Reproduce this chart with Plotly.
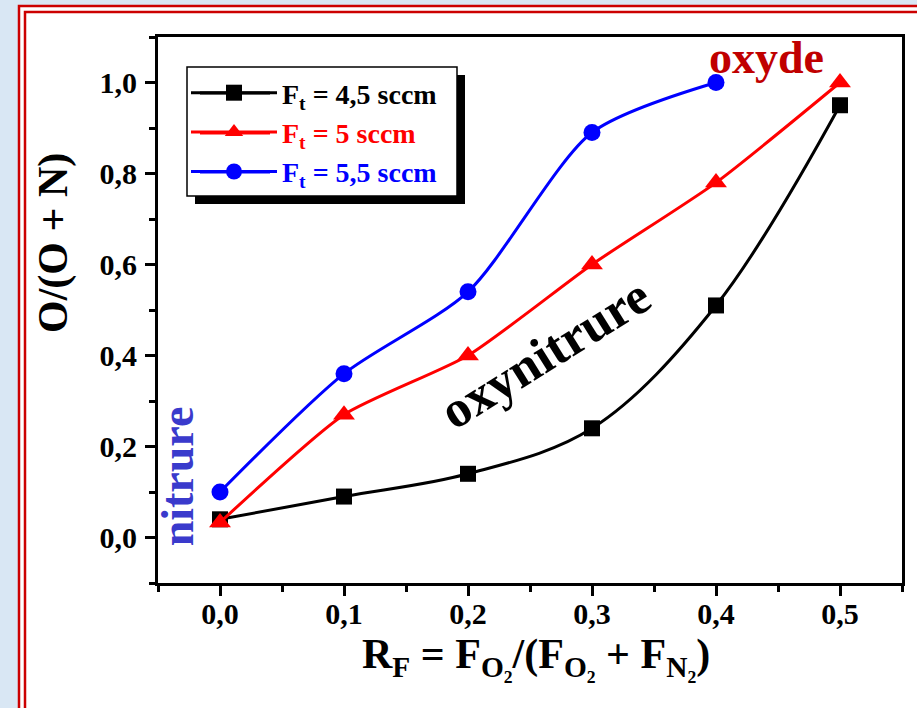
import plotly.graph_objects as go

# ---- data ----
x_ratio = [0.0, 0.1, 0.2, 0.3, 0.4, 0.5]
x_ratio_55 = [0.0, 0.1, 0.2, 0.3, 0.4]
o_frac_45 = [0.04, 0.09, 0.14, 0.24, 0.51, 0.95]
o_frac_5 = [0.033, 0.27, 0.40, 0.60, 0.78, 1.00]
o_frac_55 = [0.10, 0.36, 0.54, 0.89, 1.00]
series_labels = ["F<sub>t</sub> = 4,5 sccm", "F<sub>t</sub> = 5 sccm", "F<sub>t</sub> = 5,5 sccm"]
series_colors = ["#000000", "#ff0000", "#0000ff"]
x_tick_vals = [0.0, 0.1, 0.2, 0.3, 0.4, 0.5]
x_tick_text = ["0,0", "0,1", "0,2", "0,3", "0,4", "0,5"]
y_tick_vals = [0.0, 0.2, 0.4, 0.6, 0.8, 1.0]
y_tick_text = ["0,0", "0,2", "0,4", "0,6", "0,8", "1,0"]

FONT = "Liberation Serif"
W_FIG, H_FIG = 917, 708
L, R, T, B = 158, 902, 37, 583
PW, PH = R - L, B - T


def px(v):
    return (v - L) / PW


def py(v):
    return (B - v) / PH


fig = go.Figure()
fig.add_trace(go.Scatter(
    x=x_ratio, y=o_frac_45, mode="lines+markers",
    name="<span style='color:%s'>%s</span>" % (series_colors[0], series_labels[0]),
    line=dict(color=series_colors[0], width=3, shape="spline", smoothing=1.0),
    marker=dict(symbol="square", size=16, color=series_colors[0])))
fig.add_trace(go.Scatter(
    x=x_ratio, y=o_frac_5, mode="lines+markers",
    name="<span style='color:%s'>%s</span>" % (series_colors[1], series_labels[1]),
    line=dict(color=series_colors[1], width=3, shape="spline", smoothing=0.6),
    marker=dict(symbol="triangle-up", size=19, color=series_colors[1])))
fig.add_trace(go.Scatter(
    x=x_ratio_55, y=o_frac_55, mode="lines+markers",
    name="<span style='color:%s'>%s</span>" % (series_colors[2], series_labels[2]),
    line=dict(color=series_colors[2], width=3, shape="spline", smoothing=0.75),
    marker=dict(symbol="circle", size=17, color=series_colors[2])))

# legend geometry (pixels)
LEG_BOX = (187, 67, 457, 196)
LEG_ROWS = [93, 133, 172]
LEG_LINE = (200, 270)

shapes = [
    dict(type="rect", xref="paper", yref="paper", x0=px(19), x1=px(960), y0=py(6), y1=py(760),
         fillcolor="white", line=dict(width=0), layer="below"),
    dict(type="rect", xref="paper", yref="paper", x0=px(19), x1=px(960), y0=py(6), y1=py(760),
         fillcolor="rgba(0,0,0,0)", line=dict(color="#cc0000", width=2.5), layer="below"),
    dict(type="rect", xref="paper", yref="paper", x0=px(25), x1=px(954), y0=py(12), y1=py(754),
         fillcolor="rgba(0,0,0,0)", line=dict(color="#cc0000", width=2.5), layer="below"),
    # legend shadow and box
    dict(type="rect", xref="paper", yref="paper", x0=px(LEG_BOX[0] + 8), x1=px(LEG_BOX[2] + 8),
         y0=py(LEG_BOX[1] + 8), y1=py(LEG_BOX[3] + 8),
         fillcolor="black", line=dict(width=0), layer="above"),
    dict(type="rect", xref="paper", yref="paper", x0=px(LEG_BOX[0]), x1=px(LEG_BOX[2]),
         y0=py(LEG_BOX[1]), y1=py(LEG_BOX[3]),
         fillcolor="white", line=dict(color="black", width=1.5), layer="above"),
]
for yy, cc in zip(LEG_ROWS, series_colors):
    shapes.append(dict(type="line", xref="paper", yref="paper", x0=px(LEG_LINE[0]), x1=px(LEG_LINE[1]),
                       y0=py(yy), y1=py(yy), line=dict(color=cc, width=3), layer="above"))

bold = dict(family=FONT, weight="bold")
annotations = [
    dict(text="oxyde", x=0.441, y=1.054, xref="x", yref="y", showarrow=False,
         xanchor="center", yanchor="middle", font=dict(size=46, color="#c00000", **bold)),
    dict(text="oxynitrure", x=0.262, y=0.405, xref="x", yref="y", showarrow=False, textangle=-32,
         xanchor="center", yanchor="middle", font=dict(size=52, color="black", **bold)),
    dict(text="nitrure", x=-0.034, y=0.134, xref="x", yref="y", showarrow=False, textangle=-90,
         xanchor="center", yanchor="middle", font=dict(size=46, color="#3a3acc", **bold)),
    dict(text="O/(O + N)", x=px(53), y=py(243), xref="paper", yref="paper", showarrow=False,
         xanchor="center", yanchor="middle", textangle=-90,
         font=dict(size=42, color="black", **bold)),
    dict(text="R<sub>F</sub> = F<sub>O₂</sub>/(F<sub>O₂</sub> + F<sub>N₂</sub>)",
         x=px(536), y=py(657), xref="paper", yref="paper", showarrow=False,
         xanchor="center", yanchor="middle",
         font=dict(size=42, color="black", **bold)),
]

axis_common = dict(
    showline=True, linecolor="black", linewidth=3, mirror=True,
    ticks="outside", ticklen=10, tickwidth=3, tickcolor="black",
    showgrid=False, zeroline=False,
    tickfont=dict(size=30, color="black", **bold),
)

fig.update_layout(
    width=W_FIG, height=H_FIG,
    margin=dict(l=L, r=W_FIG - R, t=T, b=H_FIG - B),
    paper_bgcolor="#d9e7f4",
    plot_bgcolor="rgba(0,0,0,0)",
    showlegend=True,
    legend=dict(x=px(186), y=py(68), xanchor="left", yanchor="top",
                bgcolor="rgba(0,0,0,0)", borderwidth=0, itemwidth=86,
                font=dict(size=28, color="black", **bold), tracegroupgap=0),
    xaxis=dict(range=[-0.05, 0.55], tickmode="array", tickvals=x_tick_vals, ticktext=x_tick_text,
               ticklabelstandoff=-8,
               minor=dict(tickmode="linear", tick0=0, dtick=0.05, ticks="outside", ticklen=6,
                          tickwidth=3, tickcolor="black"),
               **axis_common),
    yaxis=dict(range=[-0.1, 1.1], tickmode="array", tickvals=y_tick_vals, ticktext=y_tick_text,
               ticklabelstandoff=2,
               minor=dict(tickmode="linear", tick0=0, dtick=0.1, ticks="outside", ticklen=6,
                          tickwidth=3, tickcolor="black"),
               **axis_common),
    shapes=shapes,
    annotations=annotations,
)

fig.write_html("out.html")
